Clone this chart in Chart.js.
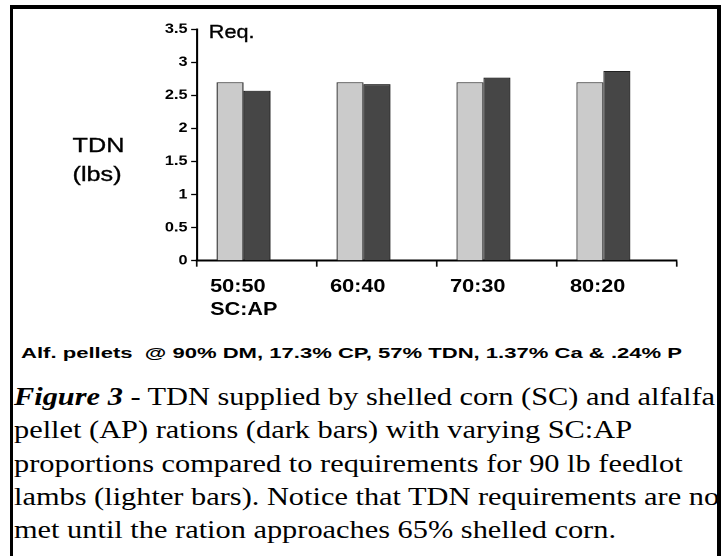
<!DOCTYPE html>
<html>
<head>
<meta charset="utf-8">
<script src="https://cdn.jsdelivr.net/npm/chart.js@4.4.1/dist/chart.umd.min.js"></script>
<style>
  html, body { margin:0; padding:0; background:#fff; }
  body { width:723px; height:556px; overflow:hidden; position:relative; }
  #frame { position:absolute; left:10px; top:5px; width:711px; height:700px; box-sizing:border-box;
           border-left:3px solid #000; border-top:4px solid #000; border-right:4px solid #000; z-index:5; }
  #wrap { position:absolute; left:0; top:0; width:600px; height:340px; transform:scaleX(1.2); transform-origin:0 0; }
  #wrap canvas { position:absolute; left:0; top:0; }
  .lbl { position:absolute; font-family:'Liberation Sans', Arial, sans-serif; color:#000; white-space:nowrap; line-height:1;
         -webkit-text-stroke:0.35px #000; }
  #alf { position:absolute; left:21px; top:345px; font-family:'Liberation Sans', Arial, sans-serif; font-weight:bold;
         font-size:15px; line-height:15px; white-space:nowrap; transform-origin:0 0; color:#000; }
  #capClip { position:absolute; left:13px; top:380px; width:705px; height:176px; overflow:hidden; }
  #cap { position:absolute; left:1px; top:0; font-family:'Liberation Serif', 'Times New Roman', serif;
         font-size:26px; line-height:33.3px; white-space:nowrap; color:#000; transform-origin:0 0; }
</style>
</head>
<body>
<div id="frame"></div>
<div id="wrap">
  <canvas id="c" width="600" height="340"></canvas>
  <div class="lbl" style="left:174px;top:23px;font-size:18px;">Req.</div>
  <div class="lbl" style="left:60.5px;top:134px;font-size:21px;">TDN</div>
  <div class="lbl" style="left:60.5px;top:163px;font-size:21px;">(lbs)</div>
</div>
<div id="alf"><span id="alfText">Alf. pellets&nbsp; @ 90% DM, 17.3% CP, 57% TDN, 1.37% Ca &amp; .24% P</span></div>
<div id="capClip"><div id="cap"><span id="capLine1"><b><i>Figure 3</i></b> - TDN supplied by shelled corn (SC) and alfalfa</span><br>pellet (AP) rations (dark bars) with varying SC:AP<br>proportions compared to requirements for 90 lb feedlot<br>lambs (lighter bars). Notice that TDN requirements are not<br>met until the ration approaches 65% shelled corn.</div></div>
<script>
const categories = [['50:50', 'SC:AP'], '60:40', '70:30', '80:20'];
const requirement = [2.70, 2.70, 2.70, 2.70];
const supplied = [2.57, 2.67, 2.77, 2.87];
const spacer = [null, null, null, null];
const yTickValues = [0, 0.5, 1, 1.5, 2, 2.5, 3, 3.5];
const yTickLabels = ['0', '0.5', '1', '1.5', '2', '2.5', '3', '3.5'];

// horizontal stretch of the text blocks, as in the (stretched) reference figure
(function(){
  const alf = document.getElementById('alf');
  const wA = document.getElementById('alfText').getBoundingClientRect().width;
  alf.style.transform = 'scaleX(' + (661 / wA) + ')';
  const cap = document.getElementById('cap');
  const wC = document.getElementById('capLine1').getBoundingClientRect().width;
  cap.style.transform = 'scaleX(' + (701 / wC) + ')';
})();

new Chart(document.getElementById('c'), {
  type: 'bar',
  data: {
    labels: categories,
    datasets: [
      { label: 'Req.', data: requirement, backgroundColor: '#cbcbcb', borderColor: '#333', borderWidth: 1 },
      { label: 'Supplied', data: supplied, backgroundColor: '#464646', borderColor: '#222', borderWidth: 1 },
      { label: '', data: spacer, backgroundColor: 'rgba(0,0,0,0)', borderWidth: 0 }
    ]
  },
  options: {
    responsive: false,
    devicePixelRatio: 2,
    animation: false,
    events: [],
    layout: { padding: { left: 0, right: 36, top: 29.3, bottom: 0 } },
    plugins: { legend: { display: false }, tooltip: { enabled: false }, title: { display: false } },
    datasets: { bar: { categoryPercentage: 0.675, barPercentage: 1.0 } },
    scales: {
      x: {
        offset: true,
        grid: { display: true, drawOnChartArea: false, drawTicks: true, tickLength: 6, tickColor: '#000', tickWidth: 1.3, offset: true },
        border: { display: true, color: '#000', width: 2 },
        ticks: { align: 'start', labelOffset: -39, padding: 9, color: '#000', maxRotation: 0, autoSkip: false,
                 font: { family: "'Liberation Sans', Arial, sans-serif", size: 18, weight: 'bold', lineHeight: 1.28 } },
        afterFit: s => { s.height = 79.3; }
      },
      y: {
        min: 0, max: 3.5,
        afterBuildTicks: s => { s.ticks = yTickValues.map(v => ({ value: v })); },
        grid: { display: true, drawOnChartArea: false, drawTicks: true, tickLength: 5, tickColor: '#000', tickWidth: 1.3 },
        border: { display: true, color: '#000', width: 1.6 },
        ticks: { padding: 3, color: '#000', callback: (v, i) => yTickLabels[i],
                 font: { family: "'Liberation Sans', Arial, sans-serif", size: 13.5, weight: 'bold' } },
        afterFit: s => { s.width = 164.2; }
      }
    }
  }
});
</script>
</body>
</html>
